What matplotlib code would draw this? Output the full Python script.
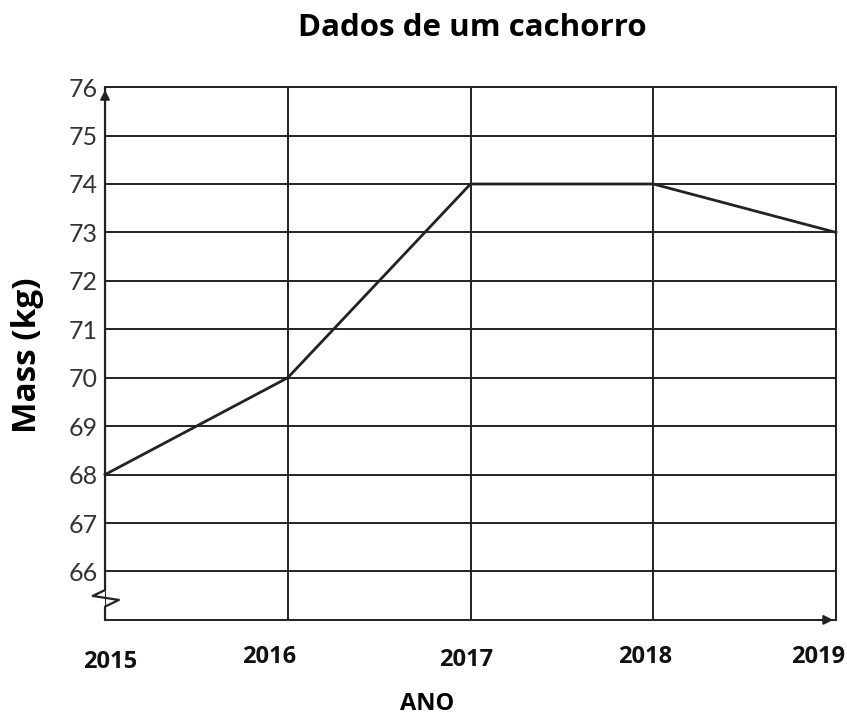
import matplotlib.pyplot as plt
from matplotlib.transforms import blended_transform_factory, ScaledTranslation

# dog mass over the years
years = [2015, 2016, 2017, 2018, 2019]
mass = [68, 70, 74, 74, 73]
y_ticks = [66, 67, 68, 69, 70, 71, 72, 73, 74, 75, 76]

# small nudges (pixels) of the year labels, as in the scanned chart
label_dx = [5, -19, -4, -8, -18]
label_dy = [-5, 0, -3, 0, 0]

plt.rcParams['font.family'] = ['Lato', 'DejaVu Sans']
bold_font = ['Open Sans', 'DejaVu Sans']

fig = plt.figure(figsize=(8.47, 7.2), dpi=100)
ax = fig.add_axes([0.124, 0.139, 0.863, 0.740])

ax.plot(years, mass, color='#222222', lw=2.0, zorder=3, clip_on=False)

ax.set_xlim(2015, 2019)
ax.set_ylim(65, 76)
ax.set_xticks(years)
ax.set_yticks(y_ticks)
ax.set_xticklabels([])
ax.set_yticklabels([str(v) for v in y_ticks], fontsize=18, color='#333333')
ax.tick_params(axis='both', length=0)
ax.tick_params(axis='y', pad=5)

# year labels drawn as text so each can sit where the original has it
tx = blended_transform_factory(ax.transData, ax.transAxes)
for yr, dx, dy in zip(years, label_dx, label_dy):
    off = ScaledTranslation(dx / 100, (dy - 37) / 100, fig.dpi_scale_trans)
    ax.text(yr, 0, str(yr), transform=tx + off, ha='center', va='center',
            fontsize=17, fontweight='bold', family=bold_font, color='#111111')

# grid lines, black like the printed chart
ax.grid(True, color='#222222', lw=1.4)
ax.set_axisbelow(True)

for side in ['top', 'right', 'bottom']:
    ax.spines[side].set_color('#222222')
    ax.spines[side].set_linewidth(1.4)
ax.spines['left'].set_visible(False)

# left axis with the break zigzag
tr = ax.transAxes
zx = [0, 0, 0.019, -0.017, 0, 0]
zy = [0, 0.025, 0.0375, 0.045, 0.056, 1.0]
ax.plot(zx, zy, color='#222222', lw=1.6, transform=tr, clip_on=False, zorder=4)

# arrow heads on the axes
ax.annotate('', xy=(0, 1.0), xytext=(0, 0.96), xycoords=tr, textcoords=tr,
            arrowprops=dict(arrowstyle='-|>', color='#222222', lw=1.4, mutation_scale=14))
ax.annotate('', xy=(1.0, 0), xytext=(0.97, 0), xycoords=tr, textcoords=tr,
            arrowprops=dict(arrowstyle='-|>', color='#222222', lw=1.4, mutation_scale=14))

fig.text(0.558, 0.961, 'Dados de um cachorro', fontsize=22.5, fontweight='bold',
         family=bold_font, ha='center', va='center')
fig.text(0.032, 0.507, 'Mass (kg)', fontsize=24, fontweight='bold', family=bold_font,
         rotation=90, ha='center', va='center')
fig.text(0.504, 0.022, 'ANO', fontsize=17, fontweight='bold', family=bold_font,
         ha='center', va='center')

plt.savefig('out.png', dpi=100)
